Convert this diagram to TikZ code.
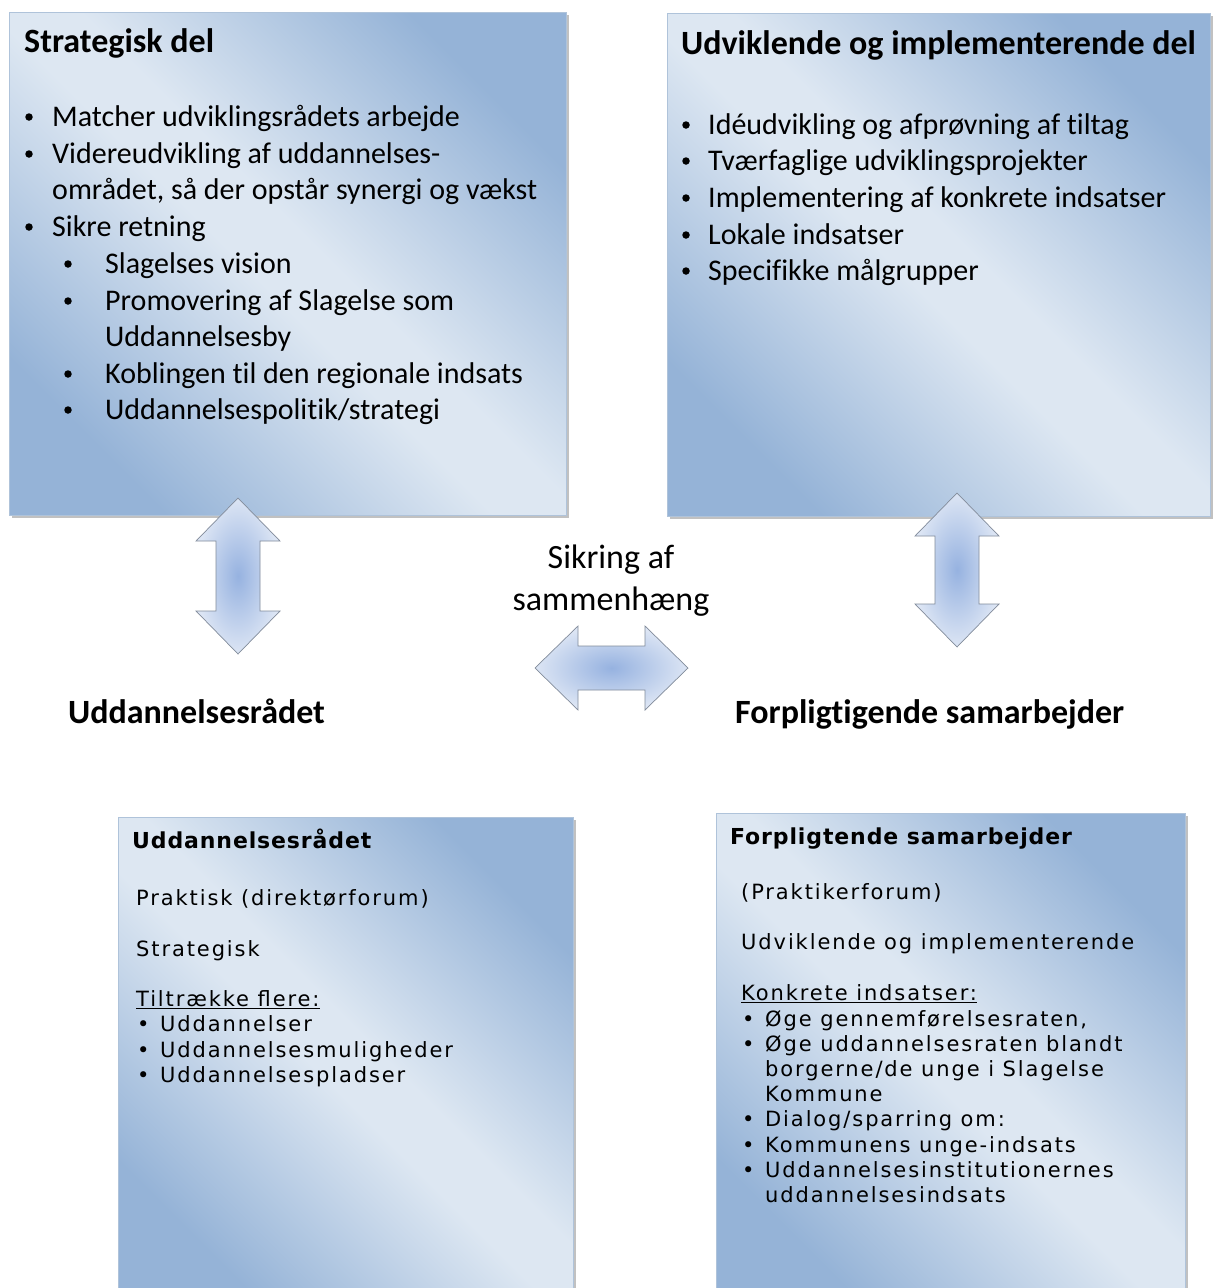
\documentclass[tikz,border=0pt]{standalone}
\usepackage{fontspec}
\setmainfont{Carlito}[Ligatures=NoCommon]
\newfontfamily\vbody[LetterSpace=9]{DejaVu Sans}
\newfontfamily\vtitle[LetterSpace=4]{DejaVu Sans Bold}
\usetikzlibrary{shadows}
\definecolor{boxdark}{RGB}{149,179,215}
\definecolor{boxlight}{RGB}{221,231,242}
\definecolor{arrowin}{RGB}{150,178,224}
\definecolor{arrowout}{RGB}{220,229,244}
\definecolor{edgecol}{RGB}{175,195,218}
\definecolor{arrowedge}{RGB}{130,140,155}
\pgfdeclarehorizontalshading{boxshade}{100bp}{color(0bp)=(boxdark); color(25bp)=(boxdark); color(47bp)=(boxlight); color(53bp)=(boxlight); color(75bp)=(boxdark); color(100bp)=(boxdark)}
\tikzset{
 panel/.style={anchor=north west, inner sep=0pt, shading=boxshade, shading angle=45, draw=edgecol, line width=0.6pt,
   drop shadow={shadow xshift=3pt, shadow yshift=-3pt, opacity=0.4, fill=black!60}},
 dblarrow/.style={inner color=arrowin, outer color=arrowout, draw=arrowedge, line width=0.7pt, line join=miter},
 txt/.style={anchor=base west, inner sep=0pt, font=\fontsize{30}{36}\selectfont},
 bul/.style={circle, fill=black, inner sep=0pt, minimum size=7.5pt},
 ttl/.style={anchor=base west, inner sep=0pt, font=\fontsize{34}{40}\selectfont\bfseries},
 mid/.style={anchor=base, inner sep=0pt, font=\fontsize{34}{40}\selectfont},
 vtxt/.style={anchor=base west, inner sep=0pt, font=\vbody\fontsize{21}{25}\selectfont},
 vttl/.style={anchor=base west, inner sep=0pt, font=\vtitle\fontsize{22}{26}\selectfont},
}
\newcommand\myvarrow[3]{%
 \path[dblarrow] (#1,#2) -- (#1+42,#2+43) -- (#1+22,#2+43) -- (#1+22,#3-43) -- (#1+42,#3-43) -- (#1,#3)
   -- (#1-42,#3-43) -- (#1-22,#3-43) -- (#1-22,#2+43) -- (#1-42,#2+43) -- cycle;}
\newcommand\myharrow[3]{%
 \path[dblarrow] (#1,#3) -- (#1+43,#3-42) -- (#1+43,#3-22) -- (#2-43,#3-22) -- (#2-43,#3-42) -- (#2,#3)
   -- (#2-43,#3+42) -- (#2-43,#3+22) -- (#1+43,#3+22) -- (#1+43,#3+42) -- cycle;}
\begin{document}
\begin{tikzpicture}[x=1pt,y=-1pt]
\clip (0,0) rectangle (1213,1288);
\fill[white] (0,0) rectangle (1213,1288);

% panels
\node[panel, minimum width=557pt, minimum height=503pt] (ptl) at (9,12) {};
\node[panel, minimum width=543pt, minimum height=503pt] (ptr) at (667,13) {};
\node[panel, minimum width=455pt, minimum height=483pt] (pbl) at (118,817) {};
\node[panel, minimum width=469pt, minimum height=487pt] (pbr) at (716,813) {};

% arrows
\myvarrow{238}{498}{654}
\myvarrow{957}{493}{647}
\myharrow{535}{688}{668}

% top-left text
\node[ttl] (tlt) at (24,52) {Strategisk del};
\node[bul] (tlb1) at (29,117) {}; \node[txt] (tl1) at (52,126) {Matcher udviklingsrådets arbejde};
\node[bul] (tlb2) at (29,154) {}; \node[txt] (tl2) at (52,163) {Videreudvikling af uddannelses-};
\node[txt] (tl3) at (52,199) {området, så der opstår synergi og vækst};
\node[bul] (tlb4) at (29,227) {}; \node[txt] (tl4) at (52,236) {Sikre retning};
\node[bul] (tlb5) at (68,264) {}; \node[txt] (tl5) at (105,273) {Slagelses vision};
\node[bul] (tlb6) at (68,301) {}; \node[txt] (tl6) at (105,310) {Promovering af Slagelse som};
\node[txt] (tl7) at (105,346) {Uddannelsesby};
\node[bul] (tlb8) at (68,374) {}; \node[txt] (tl8) at (105,383) {Koblingen til den regionale indsats};
\node[bul] (tlb9) at (68,410) {}; \node[txt] (tl9) at (105,419) {Uddannelsespolitik/strategi};

% top-right text
\node[ttl] (trt) at (681,54) {Udviklende og implementerende del};
\node[bul] (trb1) at (686,125) {}; \node[txt] (tr1) at (708,134) {Idéudvikling og afprøvning af tiltag};
\node[bul] (trb2) at (686,161) {}; \node[txt] (tr2) at (708,170) {Tværfaglige udviklingsprojekter};
\node[bul] (trb3) at (686,198) {}; \node[txt] (tr3) at (708,207) {Implementering af konkrete indsatser};
\node[bul] (trb4) at (686,235) {}; \node[txt] (tr4) at (708,244) {Lokale indsatser};
\node[bul] (trb5) at (686,271) {}; \node[txt] (tr5) at (708,280) {Specifikke målgrupper};

% middle labels
\node[mid] (m1) at (611,568) {Sikring af};
\node[mid] (m2) at (611,610) {sammenhæng};
\node[ttl] (lab1) at (68,723) {Uddannelsesrådet};
\node[ttl] (lab2) at (735,723) {Forpligtigende samarbejder};

% bottom-left text
\node[vttl] (blt) at (132,848) {Uddannelsesrådet};
\node[vtxt] (bl1) at (136,905) {Praktisk (direktørforum)};
\node[vtxt] (bl2) at (136,956) {Strategisk};
\node[vtxt] (bl3) at (136,1006) {\underline{Tiltrække flere:}};
\node[vtxt] (blb4) at (137,1031) {•}; \node[vtxt] (bl4) at (160,1031) {Uddannelser};
\node[vtxt] (blb5) at (137,1057) {•}; \node[vtxt] (bl5) at (160,1057) {Uddannelsesmuligheder};
\node[vtxt] (blb6) at (137,1082) {•}; \node[vtxt] (bl6) at (160,1082) {Uddannelsespladser};

% bottom-right text
\node[vttl] (brt) at (730,844) {Forpligtende samarbejder};
\node[vtxt] (br1) at (741,899) {(Praktikerforum)};
\node[vtxt] (br2) at (741,949) {Udviklende og implementerende};
\node[vtxt] (br3) at (741,1000) {\underline{Konkrete indsatser:}};
\node[vtxt] (brb4) at (742,1026) {•}; \node[vtxt] (br4) at (765,1026) {Øge gennemførelsesraten,};
\node[vtxt] (brb5) at (742,1051) {•}; \node[vtxt] (br5) at (765,1051) {Øge uddannelsesraten blandt};
\node[vtxt] (br6) at (765,1076) {borgerne/de unge i Slagelse};
\node[vtxt] (br7) at (765,1101) {Kommune};
\node[vtxt] (brb8) at (742,1126) {•}; \node[vtxt] (br8) at (765,1126) {Dialog/sparring om:};
\node[vtxt] (brb9) at (742,1152) {•}; \node[vtxt] (br9) at (765,1152) {Kommunens unge-indsats};
\node[vtxt] (brb10) at (742,1177) {•}; \node[vtxt] (br10) at (765,1177) {Uddannelsesinstitutionernes};
\node[vtxt] (br11) at (765,1202) {uddannelsesindsats};
\end{tikzpicture}
\end{document}
